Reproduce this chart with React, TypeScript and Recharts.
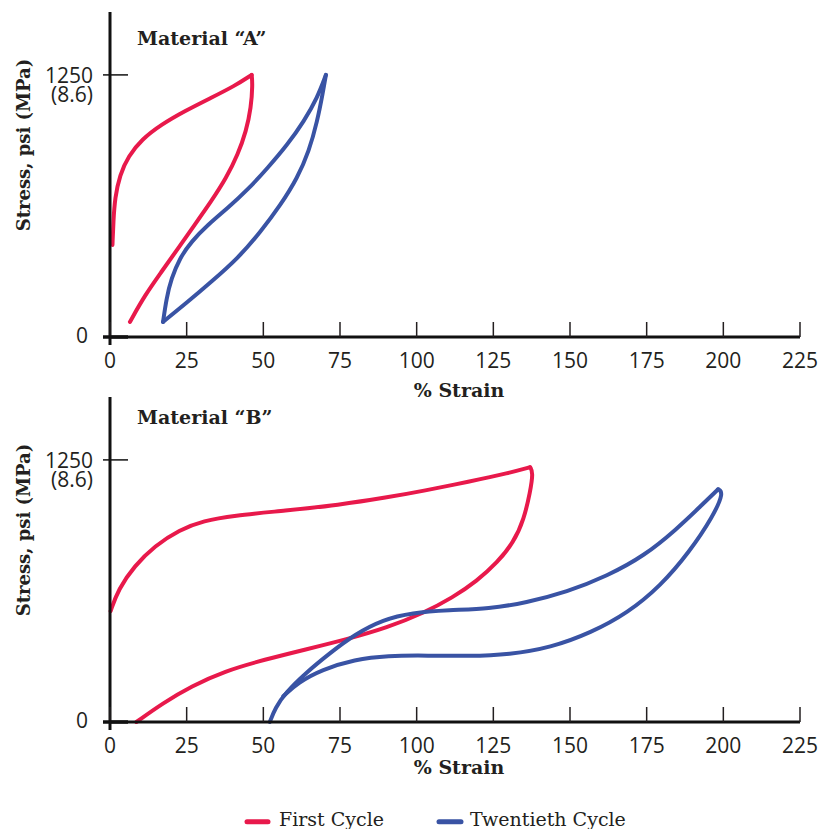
import React from "react";
import { LineChart, Line, XAxis, YAxis, Customized } from "recharts";

const RED = "#e8194b";
const BLUE = "#3953a4";
const INK = "#231f20";
const SANS = "'Open Sans', 'Noto Sans', sans-serif";
const SLAB = "'DejaVu Serif', serif";

const strainTicks = [0, 25, 50, 75, 100, 125, 150, 175, 200, 225];
const stressTicks = [0, 1250];
const stressLabels: Record<number, string[]> = {
  0: ["0"],
  1250: ["1250", "(8.6)"],
};

// Material "A" — each loop split into loading / unloading branch
const aFirstLoad = [
  { x: 0.8, y: 439 },
  { x: 1.1, y: 551 },
  { x: 1.6, y: 663 },
  { x: 3.2, y: 774 },
  { x: 6.0, y: 862 },
  { x: 10.3, y: 942 },
  { x: 16.8, y: 1014 },
  { x: 24.4, y: 1078 },
  { x: 33.0, y: 1141 },
  { x: 40.6, y: 1197 },
  { x: 46.2, y: 1250 },
];
const aFirstUnload = [
  { x: 46.2, y: 1250 },
  { x: 46.5, y: 1205 },
  { x: 46.0, y: 1094 },
  { x: 44.4, y: 982 },
  { x: 41.7, y: 870 },
  { x: 37.9, y: 758 },
  { x: 33.0, y: 647 },
  { x: 27.6, y: 535 },
  { x: 22.2, y: 423 },
  { x: 16.8, y: 311 },
  { x: 11.4, y: 200 },
  { x: 6.5, y: 72 },
];
const aTwentiethLoad = [
  { x: 17.3, y: 72 },
  { x: 18.4, y: 184 },
  { x: 20.0, y: 279 },
  { x: 22.7, y: 375 },
  { x: 26.5, y: 455 },
  { x: 31.9, y: 535 },
  { x: 38.4, y: 615 },
  { x: 44.9, y: 702 },
  { x: 51.4, y: 806 },
  { x: 57.9, y: 918 },
  { x: 63.3, y: 1030 },
  { x: 67.6, y: 1141 },
  { x: 70.4, y: 1250 },
];
const aTwentiethUnload = [
  { x: 70.4, y: 1250 },
  { x: 69.3, y: 1157 },
  { x: 67.6, y: 1030 },
  { x: 64.9, y: 886 },
  { x: 61.1, y: 758 },
  { x: 55.7, y: 631 },
  { x: 49.2, y: 503 },
  { x: 41.7, y: 375 },
  { x: 33.0, y: 263 },
  { x: 25.4, y: 168 },
  { x: 17.3, y: 72 },
];

// Material "B"
const bFirstLoad = [
  { x: 0.2, y: 529 },
  { x: 2.7, y: 633 },
  { x: 8.0, y: 745 },
  { x: 14.6, y: 840 },
  { x: 22.6, y: 917 },
  { x: 30.6, y: 960 },
  { x: 39.9, y: 984 },
  { x: 57.2, y: 1008 },
  { x: 74.5, y: 1035 },
  { x: 90.4, y: 1071 },
  { x: 102.4, y: 1103 },
  { x: 117.0, y: 1146 },
  { x: 130.3, y: 1188 },
  { x: 137.0, y: 1215 },
];
const bFirstUnload = [
  { x: 137.0, y: 1215 },
  { x: 138.0, y: 1191 },
  { x: 137.0, y: 1095 },
  { x: 135.0, y: 968 },
  { x: 131.6, y: 856 },
  { x: 126.3, y: 761 },
  { x: 119.7, y: 673 },
  { x: 111.7, y: 593 },
  { x: 102.4, y: 521 },
  { x: 90.4, y: 450 },
  { x: 77.1, y: 394 },
  { x: 63.8, y: 346 },
  { x: 50.5, y: 298 },
  { x: 37.2, y: 242 },
  { x: 26.6, y: 171 },
  { x: 17.3, y: 91 },
  { x: 8.6, y: 0 },
];
const bTwentiethLoad = [
  { x: 52.1, y: 0 },
  { x: 53.9, y: 67 },
  { x: 57.2, y: 139 },
  { x: 63.8, y: 234 },
  { x: 71.8, y: 330 },
  { x: 79.8, y: 418 },
  { x: 89.1, y: 489 },
  { x: 98.4, y: 521 },
  { x: 110.4, y: 534 },
  { x: 123.7, y: 540 },
  { x: 135.6, y: 569 },
  { x: 149.0, y: 620 },
  { x: 162.2, y: 697 },
  { x: 174.2, y: 792 },
  { x: 184.8, y: 920 },
  { x: 192.8, y: 1032 },
  { x: 198.3, y: 1110 },
];
const bTwentiethUnload = [
  { x: 198.3, y: 1110 },
  { x: 200.1, y: 1095 },
  { x: 196.8, y: 984 },
  { x: 188.8, y: 808 },
  { x: 179.5, y: 649 },
  { x: 168.9, y: 521 },
  { x: 156.9, y: 426 },
  { x: 143.6, y: 354 },
  { x: 130.3, y: 322 },
  { x: 117.0, y: 314 },
  { x: 103.7, y: 317 },
  { x: 90.4, y: 317 },
  { x: 79.8, y: 298 },
  { x: 69.1, y: 250 },
  { x: 61.2, y: 187 },
  { x: 56.5, y: 123 },
];

const XTick = (props: any) => {
  const { x, y, payload } = props;
  return (
    <g>
      <line x1={x} x2={x} y1={y - 15} y2={y} stroke={INK} strokeWidth={1.5} />
      <text
        x={x}
        y={y + 31}
        textAnchor="middle"
        fontSize={21}
        fontFamily={SANS}
        fill={INK}
      >
        {payload.value}
      </text>
    </g>
  );
};

const YTick = (props: any) => {
  const { x, y, payload } = props;
  const lines = stressLabels[payload.value] || [String(payload.value)];
  const isZero = payload.value === 0;
  const tx = x - (isZero ? 22 : 17);
  return (
    <g>
      <line
        x1={x - 7}
        x2={x + 18}
        y1={y}
        y2={y}
        stroke="#111"
        strokeWidth={isZero ? 3.5 : 1.5}
      />
      {isZero && (
        <line x1={x} x2={x} y1={y} y2={y + 8} stroke="#111" strokeWidth={3} />
      )}
      {lines.map((l, i) => (
        <text
          key={i}
          x={tx}
          y={y + (isZero ? 6 : 8) + i * 19.5}
          textAnchor="end"
          fontSize={21}
          fontFamily={SANS}
          fill={INK}
        >
          {l}
        </text>
      ))}
    </g>
  );
};

const Titles = ({
  title,
  titleY,
  strainY,
}: {
  title: string;
  titleY: number;
  strainY: number;
}) => (
  <g>
    <text
      x={129}
      y={titleY}
      fontSize={19}
      fontWeight="bold"
      fontFamily={SLAB}
      fill={INK}
    >
      {title}
    </text>
    <text
      x={22}
      y={137}
      transform="rotate(-90, 22, 137)"
      textAnchor="middle"
      fontSize={18}
      fontWeight="bold"
      fontFamily={SLAB}
      fill={INK}
    >
      Stress, psi (MPa)
    </text>
    <text
      x={451}
      y={strainY}
      textAnchor="middle"
      fontSize={19}
      fontWeight="bold"
      fontFamily={SLAB}
      fill={INK}
    >
      % Strain
    </text>
  </g>
);

type Branch = { x: number; y: number }[];

const MaterialChart = ({
  title,
  titleY,
  strainY,
  first,
  twentieth,
}: {
  title: string;
  titleY: number;
  strainY: number;
  first: Branch[];
  twentieth: Branch[];
}) => (
  <LineChart
    width={816}
    height={400}
    margin={{ top: 4, right: 24, bottom: 31, left: 42 }}
  >
    <XAxis
      type="number"
      dataKey="x"
      domain={[0, 225]}
      ticks={strainTicks}
      interval={0}
      height={40}
      tickSize={0}
      tickMargin={0}
      tickLine={false}
      tick={XTick}
      axisLine={{ stroke: "#111", strokeWidth: 3 }}
    />
    <YAxis
      type="number"
      domain={[0, 1550]}
      ticks={stressTicks}
      interval={0}
      width={60}
      tickSize={0}
      tickMargin={0}
      tickLine={false}
      tick={YTick}
      axisLine={{ stroke: "#111", strokeWidth: 3 }}
    />
    {first.map((d, i) => (
      <Line
        key={`f${i}`}
        data={d}
        dataKey="y"
        type="basis"
        stroke={RED}
        strokeWidth={4}
        strokeLinecap="round"
        strokeLinejoin="round"
        dot={false}
        activeDot={false}
        isAnimationActive={false}
      />
    ))}
    {twentieth.map((d, i) => (
      <Line
        key={`t${i}`}
        data={d}
        dataKey="y"
        type="basis"
        stroke={BLUE}
        strokeWidth={4}
        strokeLinecap="round"
        strokeLinejoin="round"
        dot={false}
        activeDot={false}
        isAnimationActive={false}
      />
    ))}
    <Customized
      component={<Titles title={title} titleY={titleY} strainY={strainY} />}
    />
  </LineChart>
);

export default function App() {
  return (
    <div
      style={{
        position: "absolute",
        left: 0,
        top: 0,
        width: 832,
        height: 829,
        overflow: "hidden",
        background: "#fff",
      }}
    >
      <div style={{ position: "absolute", left: 8, top: 8 }}>
        <MaterialChart
          title="Material “A”"
          titleY={37}
          strainY={389}
          first={[aFirstLoad, aFirstUnload]}
          twentieth={[aTwentiethLoad, aTwentiethUnload]}
        />
      </div>
      <div style={{ position: "absolute", left: 8, top: 393 }}>
        <MaterialChart
          title="Material “B”"
          titleY={31}
          strainY={381}
          first={[bFirstLoad, bFirstUnload]}
          twentieth={[bTwentiethLoad, bTwentiethUnload]}
        />
      </div>
      <svg
        width={832}
        height={39}
        style={{ position: "absolute", left: 0, top: 790 }}
      >
        <line
          x1={247}
          x2={268}
          y1={31.7}
          y2={31.7}
          stroke={RED}
          strokeWidth={5}
          strokeLinecap="round"
        />
        <text x={279} y={36} fontSize={19} fontFamily={SLAB} fill={INK}>
          First Cycle
        </text>
        <line
          x1={439}
          x2={461}
          y1={31.7}
          y2={31.7}
          stroke={BLUE}
          strokeWidth={5}
          strokeLinecap="round"
        />
        <text x={470} y={36} fontSize={19} fontFamily={SLAB} fill={INK}>
          Twentieth Cycle
        </text>
      </svg>
    </div>
  );
}
